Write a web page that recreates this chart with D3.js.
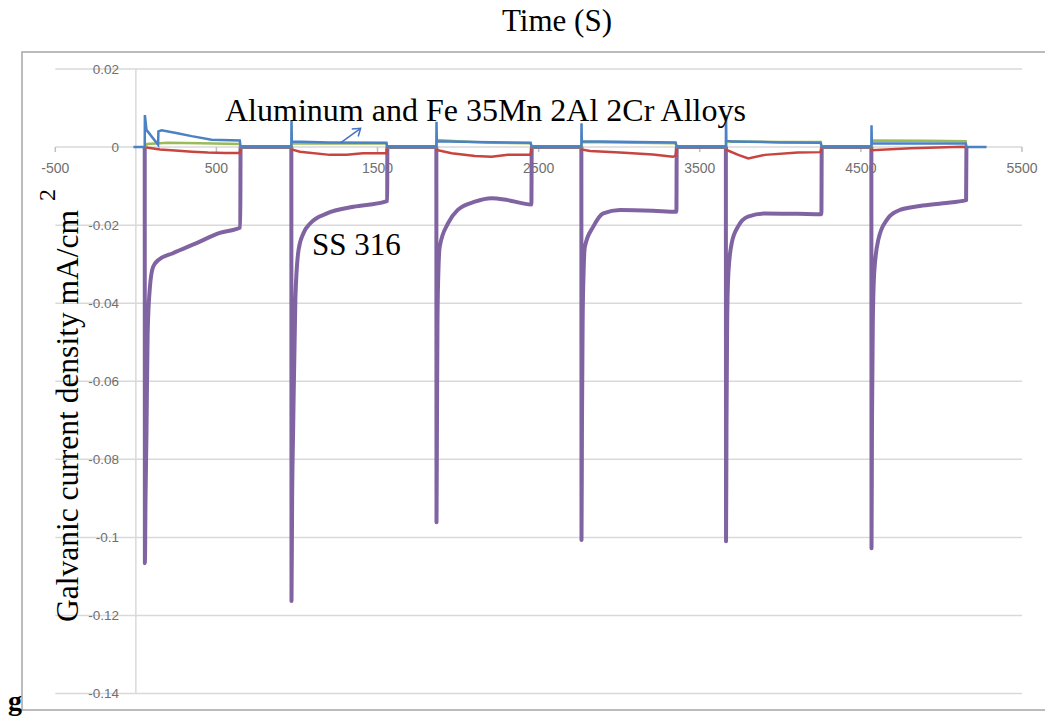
<!DOCTYPE html>
<html>
<head>
<meta charset="utf-8">
<script src="https://d3js.org/d3.v7.min.js"></script>
<style>
  body { margin: 0; background: #fff; }
</style>
</head>
<body>
<div id="my_plot"></div>
<script>
var width = 1045, height = 719;

// tick labels
var xTicks = [-500, 500, 1500, 2500, 3500, 4500, 5500];
var yTicks = [0.02, 0, -0.02, -0.04, -0.06, -0.08, -0.1, -0.12, -0.14];
var yTickLabels = ["0.02", "0", "-0.02", "-0.04", "-0.06", "-0.08", "-0.1", "-0.12", "-0.14"];

// series: [time (s), current density]
var seriesNames = ["blue", "red", "green", "ss316"];

var redSeries = [
  [55,0],[77,-0.0002],[150,-0.0006],[243,-0.0009],[350,-0.0012],[447,-0.0014],[553,-0.0015],[645,-0.0015],[650,0],
  [965,0],[966,-0.0006],[1018,-0.0012],[1204,-0.002],[1308,-0.002],[1410,-0.0016],[1555,-0.0016],[1560,0],
  [1865,0],[1867,-0.00075],[1960,-0.0016],[2105,-0.0023],[2208,-0.0025],[2309,-0.002],[2450,-0.002],[2457,0],
  [2765,0],[2767,-0.0006],[2819,-0.001],[3005,-0.0014],[3209,-0.0019],[3333,-0.0025],[3350,-0.0022],[3357,0],
  [3662,0],[3667,-0.00075],[3739,-0.002],[3801,-0.0029],[3905,-0.002],[4109,-0.0014],[4250,-0.0013],[4257,0],
  [4565,0],[4567,-0.0008],[4810,-0.0003],[5130,0.0001],[5155,0]
];

var greenSeries = [
  [55,0],[70,0.0008],[200,0.0011],[400,0.001],[645,0.0008],[650,0],
  [965,0],[970,0.001],[1200,0.0009],[1555,0.0009],[1560,0],
  [1865,0],[1870,0.0018],[2000,0.0015],[2200,0.0011],[2450,0.001],[2457,0],
  [2765,0],[2770,0.0013],[3100,0.0011],[3350,0.001],[3357,0],
  [3662,0],[3667,0.0014],[4000,0.0013],[4250,0.0013],[4257,0],
  [4565,0],[4570,0.0017],[4900,0.0016],[5150,0.0015],[5155,0]
];

var blueSeries = [
  [-15,0],[55,0],[56,0.0082],[66,0.0044],[138,0.0006],[140,0.004],[160,0.0043],[250,0.0036],[346,0.0028],[470,0.0019],[645,0.0017],[650,0],
  [965,0],[966,0.0069],[968,0.0014],[1200,0.0012],[1555,0.0011],[1560,0],
  [1865,0],[1866,0.0065],[1868,0.0015],[2100,0.0013],[2450,0.0011],[2457,0],
  [2765,0],[2766,0.0061],[2768,0.0015],[3100,0.0013],[3350,0.0012],[3357,0],
  [3662,0],[3663,0.0082],[3665,0.0018],[3700,0.0014],[4000,0.0012],[4250,0.0011],[4257,0],
  [4565,0],[4566,0.0056],[4568,0.001],[4900,0.0009],[5150,0.0009],[5155,0],[5280,0]
];

var ss316Series = [
  [55,0],[56,-0.1066],[60,-0.09],[66,-0.073],[73,-0.048],[87,-0.036],[107,-0.0307],[138,-0.029],[230,-0.0272],[377,-0.0246],[521,-0.022],[648,-0.0206],[650,0],
  [965,0],[966,-0.1163],[970,-0.09],[976,-0.073],[990,-0.039],[1010,-0.0263],[1041,-0.022],[1083,-0.0195],[1186,-0.017],[1350,-0.0153],[1548,-0.014],[1560,-0.0138],[1561,0],
  [1865,0],[1866,-0.0961],[1869,-0.07],[1872,-0.045],[1877,-0.033],[1886,-0.0255],[1938,-0.0195],[1998,-0.0161],[2104,-0.014],[2207,-0.0131],[2309,-0.0136],[2455,-0.0147],[2457,0],
  [2765,0],[2766,-0.1007],[2769,-0.07],[2773,-0.045],[2779,-0.032],[2787,-0.0255],[2839,-0.0204],[2901,-0.017],[3005,-0.0161],[3209,-0.0163],[3355,-0.0166],[3357,0],
  [3662,0],[3663,-0.101],[3666,-0.07],[3670,-0.045],[3678,-0.032],[3698,-0.0247],[3737,-0.0204],[3799,-0.0178],[3905,-0.017],[4109,-0.0171],[4255,-0.0172],[4257,0],
  [4565,0],[4566,-0.1028],[4569,-0.07],[4574,-0.045],[4583,-0.032],[4608,-0.0238],[4660,-0.0187],[4743,-0.0161],[4867,-0.0151],[5010,-0.0144],[5153,-0.0136],[5155,0]
];

var svg = d3.select("#my_plot")
  .append("svg")
    .attr("width", width)
    .attr("height", height)
    .style("display", "block");

var x = d3.scaleLinear()
  .domain([-500, 5500])
  .range([55.3, 1022]);

var y = d3.scaleLinear()
  .domain([-0.14, 0.02])
  .range([693.5, 69]);

// outer frame
svg.append("rect")
  .attr("x", 22)
  .attr("y", 52)
  .attr("width", 1060)
  .attr("height", 658)
  .attr("fill", "none")
  .attr("stroke", "#a6a6a6")
  .attr("stroke-width", 1.5);

// horizontal gridlines
svg.append("g")
  .selectAll("line")
  .data(yTicks)
  .enter()
  .append("line")
    .attr("x1", x(-500))
    .attr("x2", x(5500))
    .attr("y1", function(d){ return y(d); })
    .attr("y2", function(d){ return y(d); })
    .attr("stroke", "#d9d9d9")
    .attr("stroke-width", 1.5);

// vertical axis line at time 0
svg.append("line")
  .attr("x1", x(0)).attr("x2", x(0))
  .attr("y1", y(0.02)).attr("y2", y(-0.14))
  .attr("stroke", "#d9d9d9")
  .attr("stroke-width", 1.5);

// x ticks along the zero line
svg.append("g")
  .selectAll("line")
  .data(xTicks)
  .enter()
  .append("line")
    .attr("x1", function(d){ return x(d); })
    .attr("x2", function(d){ return x(d); })
    .attr("y1", y(0))
    .attr("y2", y(0) + 5)
    .attr("stroke", "#bfbfbf")
    .attr("stroke-width", 1.5);

// y tick labels
svg.append("g")
  .selectAll("text")
  .data(yTicks)
  .enter()
  .append("text")
    .attr("x", 119)
    .attr("y", function(d){ return y(d); })
    .attr("dy", "0.35em")
    .attr("text-anchor", "end")
    .style("font-family", "'Liberation Sans', Arial, sans-serif")
    .style("font-size", "13.5px")
    .style("fill", "#707070")
    .text(function(d, i){ return yTickLabels[i]; });

// x tick labels
svg.append("g")
  .selectAll("text")
  .data(xTicks)
  .enter()
  .append("text")
    .attr("x", function(d){ return x(d); })
    .attr("y", y(0) + 26)
    .attr("text-anchor", "middle")
    .style("font-family", "'Liberation Sans', Arial, sans-serif")
    .style("font-size", "14px")
    .style("fill", "#707070")
    .text(function(d){ return d; });

// lines
var line = d3.line()
  .x(function(d){ return x(d[0]); })
  .y(function(d){ return y(d[1]); });

var smooth = d3.line()
  .x(function(d){ return x(d[0]); })
  .y(function(d){ return y(d[1]); })
  .curve(d3.curveMonotoneX);

svg.append("path")
  .datum(ss316Series)
  .attr("d", smooth)
  .attr("fill", "none")
  .attr("stroke", "#8064A2")
  .attr("stroke-width", 4)
  .attr("stroke-linejoin", "round");

svg.append("path")
  .datum(redSeries)
  .attr("d", line)
  .attr("fill", "none")
  .attr("stroke", "#C8453F")
  .attr("stroke-width", 2.5);

svg.append("path")
  .datum(greenSeries)
  .attr("d", line)
  .attr("fill", "none")
  .attr("stroke", "#9BBB59")
  .attr("stroke-width", 2.5);

svg.append("path")
  .datum(blueSeries)
  .attr("d", line)
  .attr("fill", "none")
  .attr("stroke", "#4A82C4")
  .attr("stroke-width", 2.5);

// titles
var serif = "'Liberation Serif', 'Times New Roman', serif";

svg.append("text")
  .attr("x", 557)
  .attr("y", 31)
  .attr("text-anchor", "middle")
  .style("font-family", serif)
  .style("font-size", "31px")
  .text("Time (S)");

svg.append("text")
  .attr("transform", "translate(78,622) rotate(-90)")
  .attr("text-anchor", "start")
  .style("font-family", serif)
  .style("font-size", "31.5px")
  .text("Galvanic current density mA/cm");

svg.append("text")
  .attr("transform", "translate(55,201) rotate(-90)")
  .attr("text-anchor", "start")
  .style("font-family", serif)
  .style("font-size", "24px")
  .text("2");

svg.append("text")
  .attr("x", 225)
  .attr("y", 121)
  .style("font-family", serif)
  .style("font-size", "32px")
  .text("Aluminum and Fe 35Mn 2Al 2Cr Alloys");

svg.append("text")
  .attr("x", 312)
  .attr("y", 255)
  .style("font-family", serif)
  .style("font-size", "31px")
  .text("SS 316");

// small arrow pointing at the alloy curves
svg.append("path")
  .attr("d", "M" + x(1270) + "," + y(0.0011) + "L" + x(1395) + "," + y(0.0048))
  .attr("stroke", "#4472C4")
  .attr("stroke-width", 1.5)
  .attr("fill", "none");
svg.append("path")
  .attr("d", "M" + x(1340) + "," + y(0.0046) + "L" + x(1395) + "," + y(0.0048) + "L" + x(1380) + "," + y(0.0027))
  .attr("stroke", "#4472C4")
  .attr("stroke-width", 1.5)
  .attr("fill", "none");

svg.append("text")
  .attr("x", 8)
  .attr("y", 710)
  .style("font-family", serif)
  .style("font-weight", "bold")
  .style("font-size", "28px")
  .text("g");
</script>
</body>
</html>
